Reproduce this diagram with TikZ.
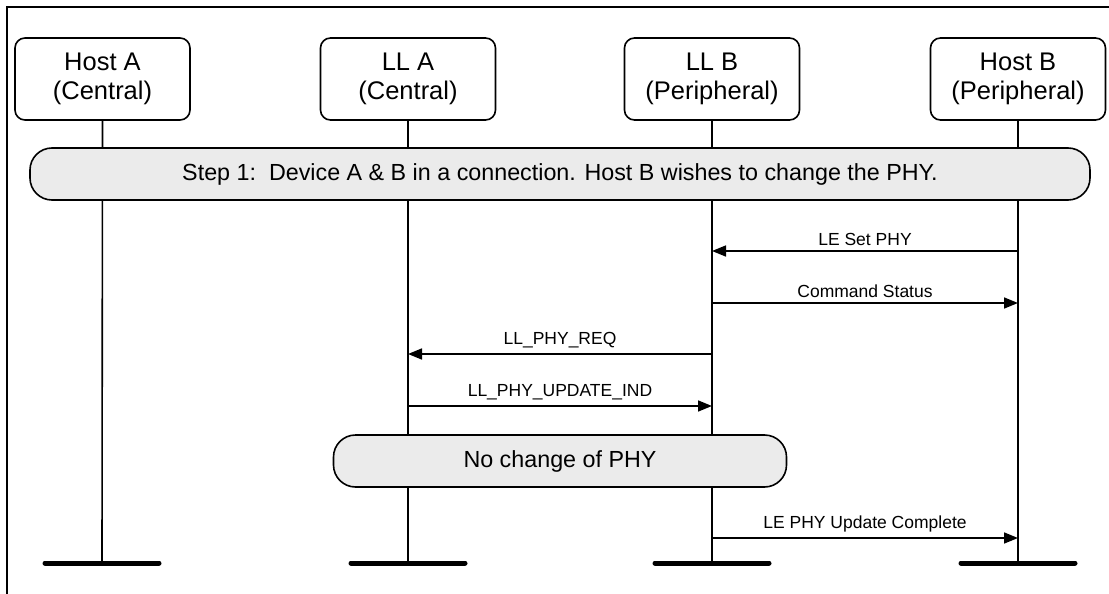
\documentclass[tikz,border=0pt]{standalone}
\usepackage{fontspec}
\setmainfont{Liberation Sans}
\usepackage{tikz}
\usetikzlibrary{arrows.meta,positioning}
\definecolor{barfill}{RGB}{235,235,235}

\tikzset{
  party/.style={draw, line width=1.6pt, rounded corners=10pt, minimum width=175pt,
    minimum height=82pt, align=center, font=\fontsize{25.5}{28.5}\selectfont, inner sep=0pt},
  stepbar/.style={draw, fill=barfill, line width=1.6pt, rounded corners=22pt,
    minimum height=52pt, font=\fontsize{23.3}{28}\selectfont, inner sep=0pt},
  life/.style={line width=1.6pt},
  foot/.style={line width=5pt, line cap=round},
  msg/.style={line width=1.6pt, -{Triangle[length=14pt,width=11pt]}},
  msglabel/.style={font=\fontsize{17.5}{20}\selectfont, inner sep=0pt, above=5pt}
}

\begin{document}
\begin{tikzpicture}[x=1pt, y=-1pt]
  \useasboundingbox (0,0) rectangle (1109,594);

  % frame
  \draw[line width=1.6pt] (7,594) -- (7,7) -- (1109,7);

  % header boxes
  \node[party] (hostA) at (102.5,79) {Host A\\(Central)};
  \node[party] (llA)   at (408,79)   {LL A\\(Central)};
  \node[party] (llB)   at (712,79)   {LL B\\(Peripheral)};
  \node[party] (hostB) at (1018,79)  {Host B\\(Peripheral)};

  % ends of the lifelines
  \path
    (102,563)  coordinate (hostA-end)
    (408,563)  coordinate (llA-end)
    (712,563)  coordinate (llB-end)
    (1018,563) coordinate (hostB-end)
    ;

  % lifelines
  \draw[life] (hostA.south) -- (hostA-end);
  \draw[life] (llA.south)   -- (llA-end);
  \draw[life] (llB.south)   -- (llB-end);
  \draw[life] (hostB.south) -- (hostB-end);

  \foreach \p in {hostA,llA,llB,hostB}
    \draw[foot] ([xshift=-57pt]\p-end) -- ([xshift=57pt]\p-end);

  % bars
  \node[stepbar, minimum width=1060pt] (step1) at (560,174)
    {Step 1:\ \ Device A \& B in a connection. Host B wishes to change the PHY.};
  \node[stepbar, minimum width=453pt] (nochange) at (560,461) {No change of PHY};

  % message points on the lifelines
  \path
    (1018,251) coordinate (hostB-1)
    (712,251)  coordinate (llB-1)
    (712,303)  coordinate (llB-2)
    (1018,303) coordinate (hostB-2)
    (712,354)  coordinate (llB-3)
    (408,354)  coordinate (llA-3)
    (408,406)  coordinate (llA-4)
    (712,406)  coordinate (llB-4)
    (712,538)  coordinate (llB-5)
    (1018,538) coordinate (hostB-5)
    ;

  \draw[msg] (hostB-1) -- node[msglabel] {LE Set PHY} (llB-1);
  \draw[msg] (llB-2) -- node[msglabel] {Command Status} (hostB-2);
  \draw[msg] (llB-3) -- node[msglabel] {LL\_PHY\_REQ} (llA-3);
  \draw[msg] (llA-4) -- node[msglabel] {LL\_PHY\_UPDATE\_IND} (llB-4);
  \draw[msg] (llB-5) -- node[msglabel] {LE PHY Update Complete} (hostB-5);

\end{tikzpicture}
\end{document}
